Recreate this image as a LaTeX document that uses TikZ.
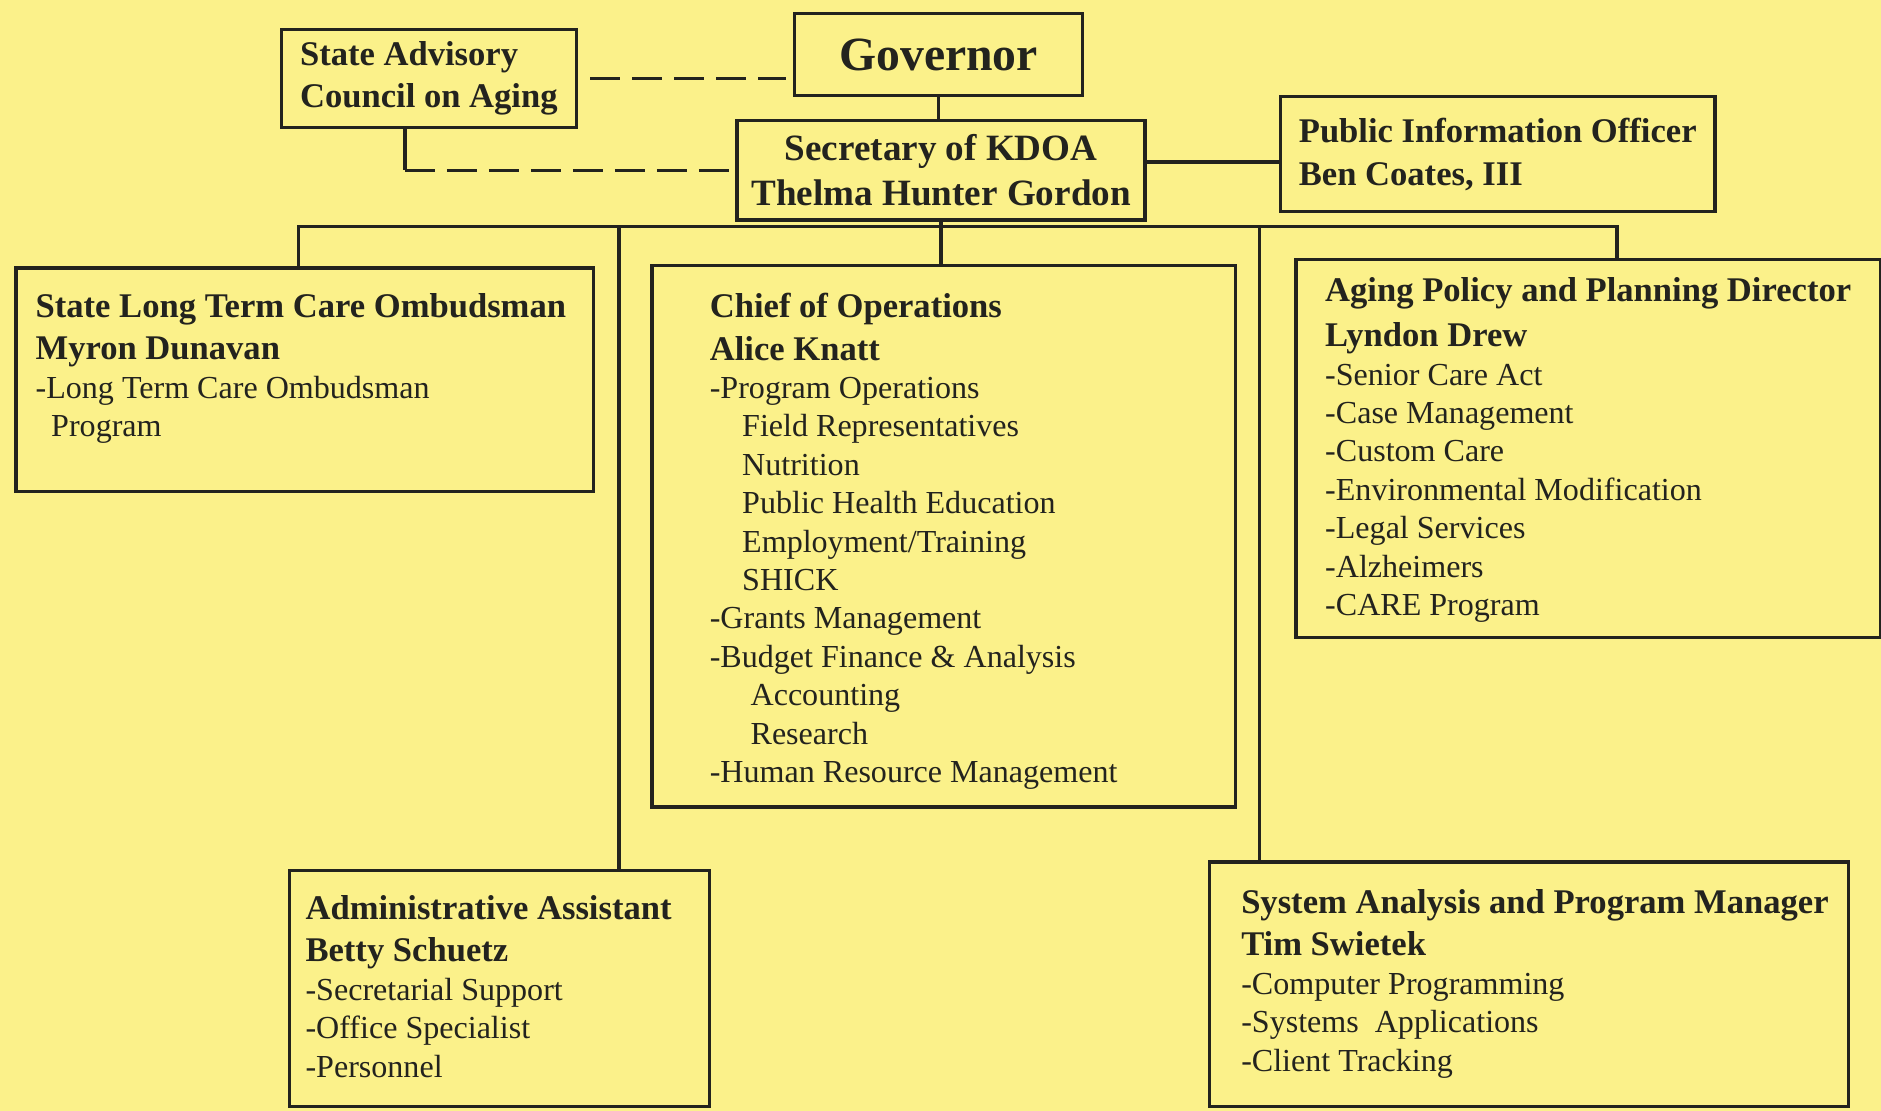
\documentclass[tikz,border=0pt]{standalone}
\usepackage{fontspec}
\setmainfont{Liberation Serif}
\usepackage{tikz}
\usetikzlibrary{positioning}

\definecolor{paper}{RGB}{251,241,138}
\definecolor{ink}{RGB}{35,35,30}

\tikzset{
	box/.style={draw=ink, line width=0.8pt, inner sep=0pt, anchor=north west, text=ink},
	txt/.style={anchor=north west, inner sep=0pt, align=left, text=ink, font=\fontsize{7.6}{9.1}\selectfont},
	link/.style={draw=ink, line width=0.8pt},
	dlink/.style={link, dash pattern=on 0.25cm off 0.1cm}
}
\newcommand{\hd}[1]{{\bfseries\fontsize{8.2}{10}\selectfont #1}}

\begin{document}
\begin{tikzpicture}[x=0.01cm, y=-0.01cm]
			\fill[paper] (0,0) rectangle (1568,926);
			\useasboundingbox (0,0) rectangle (1568,926);
			% top of the chart
			\node[box, minimum width=2.40cm, minimum height=0.68cm, font=\bfseries\fontsize{11.3}{13}\selectfont] (gov) at (661,10) {Governor};
			\node[box, minimum width=2.46cm, minimum height=0.82cm, align=left, font=\bfseries\fontsize{8.2}{10}\selectfont] (adv) at (233,23) {State Advisory\\ Council on Aging};
			\node[box, minimum width=3.40cm, minimum height=0.83cm, align=center, font=\bfseries\fontsize{8.8}{10.8}\selectfont] (sec) at (613,99) {Secretary of KDOA\\ Thelma Hunter Gordon};
			\node[box, minimum width=3.62cm, minimum height=0.96cm, align=left, font=\bfseries\fontsize{8.2}{10.2}\selectfont] (pio) at (1066,79) {Public Information Officer\\ Ben Coates, III};
			% divisions
			\node[box, minimum width=4.81cm, minimum height=1.86cm] (omb) at (12,222) {};
			\node[txt] (omb-t) at (29,244) {\hd{State Long Term Care Ombudsman}\\[0.9pt]
				\hd{Myron Dunavan}\\
				-Long Term Care Ombudsman\\
				\hspace*{0.13cm}Program};
			\node[box, minimum width=4.86cm, minimum height=4.51cm] (chief) at (542,220) {};
			\node[txt] (chief-t) at (591,244) {\hd{Chief of Operations}\\[0.9pt]
				\hd{Alice Knatt}\\
				-Program Operations\\
				\hspace*{0.27cm}Field Representatives\\
				\hspace*{0.27cm}Nutrition\\
				\hspace*{0.27cm}Public Health Education\\
				\hspace*{0.27cm}Employment/Training\\
				\hspace*{0.27cm}SHICK\\
				-Grants Management\\
				-Budget Finance \& Analysis\\
				\hspace*{0.34cm}Accounting\\
				\hspace*{0.34cm}Research\\
				-Human Resource Management};
			\node[box, minimum width=4.87cm, minimum height=3.15cm] (aging) at (1079,215) {};
			\node[txt] (aging-t) at (1104,231) {\hd{Aging Policy and Planning Director}\\[1.5pt]
				\hd{Lyndon Drew}\\
				-Senior Care Act\\
				-Case Management\\
				-Custom Care\\
				-Environmental Modification\\
				-Legal Services\\
				-Alzheimers\\
				-CARE Program};
			\node[box, minimum width=3.50cm, minimum height=1.97cm] (admin) at (240,724) {};
			\node[txt] (admin-t) at (254,746) {\hd{Administrative Assistant}\\[0.9pt]
				\hd{Betty Schuetz}\\
				-Secretarial Support\\
				-Office Specialist\\
				-Personnel};
			\node[box, minimum width=5.32cm, minimum height=2.04cm] (sys) at (1007,717) {};
			\node[txt] (sys-t) at (1034,741) {\hd{System Analysis and Program Manager}\\[0.9pt]
				\hd{Tim Swietek}\\
				-Computer Programming\\
				-Systems\ \ Applications\\
				-Client Tracking};
			% lines
			\coordinate (advdrop) at ([xshift=-0.2cm]adv.south);
			\coordinate (busL) at (249,189);
			\coordinate (busR) at (1348,189);
			\coordinate (tapA) at (516,189);
			\coordinate (tapS) at (1050,189);
			\draw[dlink] ([xshift=0.1cm]adv.east) -- ([xshift=-0.06cm]gov.west |- adv.east);
			\draw[link] (gov.south) -- (gov.south |- sec.north);
			\draw[link] (advdrop) -- (advdrop |- sec.west);
			\draw[dlink] (advdrop |- sec.west) -- (sec.west);
			\draw[link] ([yshift=0.07cm]sec.east) -- ([yshift=0.07cm]sec.east -| pio.west);
			\draw[link] (busL |- omb.north) -- (busL) -- (busR) -- (busR |- aging.north);
			\draw[link] (sec.south) -- (sec.south |- chief.north);
			\draw[link] (tapA) -- (tapA |- admin.north);
			\draw[link] (tapS) -- (tapS |- sys.north);
		\end{tikzpicture}
\end{document}
